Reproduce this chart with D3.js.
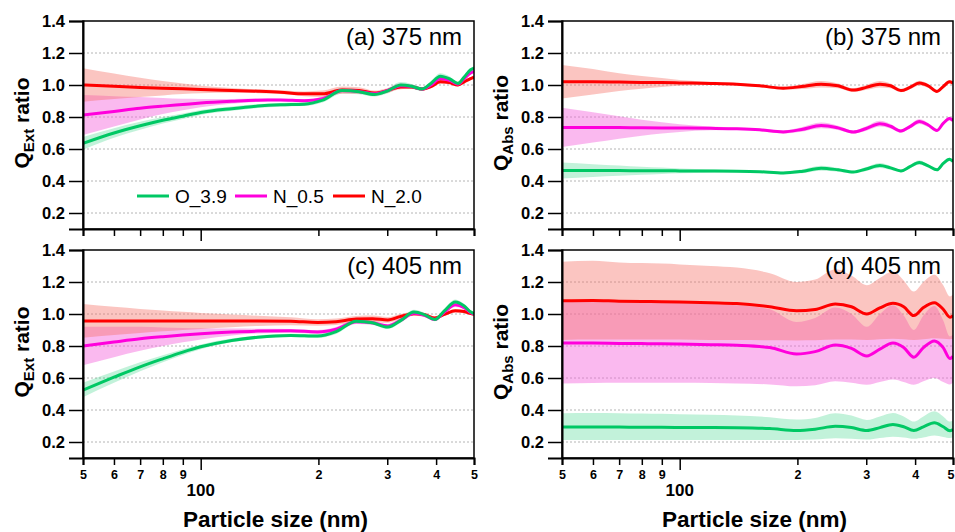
<!DOCTYPE html>
<html>
<head>
<meta charset="utf-8">
<script src="https://cdn.jsdelivr.net/npm/d3@7"></script>
<style>
  body { margin: 0; background: #fff; }
  svg text { font-family: "Liberation Sans", Arial, sans-serif; }
</style>
</head>
<body>
<svg id="chart" width="955" height="532"></svg>
<script>
// particle sizes (nm) sampled for each wavelength
var sizes375 = [50, 60, 70, 80, 90, 100, 120, 140, 160, 184, 205, 230, 254, 278, 300, 325, 346, 368, 388, 410, 432, 455, 472, 490, 500];
var sizes405 = [50, 60, 70, 80, 90, 100, 120, 140, 170, 199, 222, 250, 275, 301, 325, 351, 374, 397, 420, 448, 472, 491, 500];

var seriesNames = ['O_3.9', 'N_0.5', 'N_2.0'];
var yTicks = [0.2, 0.4, 0.6, 0.8, 1.0, 1.2, 1.4];
var xTicks = [50, 60, 70, 80, 90, 100, 200, 300, 400, 500];

// (a) 375 nm, Q_Ext ratio
var aGreen   = [0.635, 0.700, 0.745, 0.780, 0.805, 0.828, 0.852, 0.868, 0.876, 0.880, 0.905, 0.965, 0.958, 0.940, 0.962, 1.000, 0.992, 0.975, 1.010, 1.055, 1.040, 1.010, 1.050, 1.095, 1.105];
var aGreenLo = [0.595, 0.670, 0.720, 0.760, 0.788, 0.813, 0.839, 0.856, 0.864, 0.868, 0.890, 0.947, 0.942, 0.928, 0.947, 0.982, 0.977, 0.963, 0.995, 1.037, 1.025, 0.998, 1.038, 1.083, 1.093];
var aGreenHi = [0.675, 0.730, 0.770, 0.800, 0.822, 0.843, 0.865, 0.880, 0.888, 0.892, 0.920, 0.983, 0.974, 0.952, 0.977, 1.018, 1.007, 0.987, 1.025, 1.073, 1.055, 1.022, 1.062, 1.107, 1.117];
var aMag     = [0.812, 0.835, 0.855, 0.868, 0.878, 0.887, 0.898, 0.905, 0.906, 0.902, 0.915, 0.965, 0.960, 0.945, 0.965, 0.995, 0.990, 0.975, 1.000, 1.040, 1.030, 1.005, 1.040, 1.075, 1.085];
var aMagLo   = [0.687, 0.740, 0.785, 0.818, 0.842, 0.861, 0.883, 0.895, 0.898, 0.892, 0.903, 0.950, 0.947, 0.935, 0.953, 0.980, 0.978, 0.965, 0.988, 1.025, 1.018, 0.995, 1.030, 1.065, 1.075];
var aMagHi   = [0.937, 0.930, 0.925, 0.918, 0.914, 0.913, 0.913, 0.915, 0.914, 0.912, 0.927, 0.980, 0.973, 0.955, 0.977, 1.010, 1.002, 0.985, 1.012, 1.055, 1.042, 1.015, 1.050, 1.085, 1.095];
var aRed     = [1.000, 0.992, 0.985, 0.980, 0.976, 0.972, 0.966, 0.961, 0.955, 0.945, 0.945, 0.968, 0.966, 0.950, 0.965, 0.988, 0.988, 0.975, 0.990, 1.020, 1.015, 1.000, 1.020, 1.040, 1.050];
var aRedLo   = [0.895, 0.912, 0.925, 0.935, 0.943, 0.948, 0.951, 0.949, 0.943, 0.930, 0.925, 0.946, 0.946, 0.935, 0.950, 0.973, 0.976, 0.965, 0.980, 1.008, 1.005, 0.990, 1.010, 1.030, 1.040];
var aRedHi   = [1.105, 1.072, 1.045, 1.025, 1.009, 0.996, 0.981, 0.973, 0.967, 0.960, 0.965, 0.990, 0.986, 0.965, 0.980, 1.003, 1.000, 0.985, 1.000, 1.032, 1.025, 1.010, 1.030, 1.050, 1.060];

// (b) 375 nm, Q_Abs ratio
var bGreen   = [0.465, 0.465, 0.465, 0.464, 0.464, 0.463, 0.462, 0.461, 0.458, 0.450, 0.460, 0.480, 0.470, 0.456, 0.475, 0.497, 0.482, 0.463, 0.490, 0.516, 0.495, 0.470, 0.510, 0.536, 0.522];
var bGreenLo = [0.415, 0.425, 0.433, 0.439, 0.444, 0.448, 0.452, 0.454, 0.452, 0.442, 0.448, 0.464, 0.458, 0.448, 0.463, 0.481, 0.470, 0.455, 0.480, 0.502, 0.485, 0.463, 0.502, 0.526, 0.514];
var bGreenHi = [0.515, 0.505, 0.497, 0.489, 0.484, 0.478, 0.472, 0.468, 0.464, 0.458, 0.472, 0.496, 0.482, 0.464, 0.487, 0.513, 0.494, 0.471, 0.500, 0.530, 0.505, 0.477, 0.518, 0.546, 0.530];
var bMag     = [0.735, 0.735, 0.734, 0.733, 0.732, 0.731, 0.729, 0.726, 0.720, 0.707, 0.722, 0.747, 0.732, 0.706, 0.728, 0.758, 0.742, 0.712, 0.740, 0.772, 0.750, 0.716, 0.760, 0.790, 0.778];
var bMagLo   = [0.612, 0.640, 0.664, 0.683, 0.697, 0.707, 0.717, 0.718, 0.712, 0.697, 0.708, 0.729, 0.718, 0.696, 0.714, 0.740, 0.728, 0.702, 0.728, 0.757, 0.738, 0.708, 0.750, 0.778, 0.768];
var bMagHi   = [0.858, 0.830, 0.804, 0.783, 0.767, 0.755, 0.741, 0.734, 0.728, 0.717, 0.736, 0.765, 0.746, 0.716, 0.742, 0.776, 0.756, 0.722, 0.752, 0.787, 0.762, 0.724, 0.770, 0.802, 0.788];
var bRed     = [1.020, 1.020, 1.018, 1.016, 1.015, 1.013, 1.010, 1.005, 0.995, 0.980, 0.990, 1.005, 0.995, 0.968, 0.985, 1.005, 0.995, 0.965, 0.985, 1.012, 0.995, 0.960, 0.990, 1.020, 1.012];
var bRedLo   = [0.915, 0.940, 0.963, 0.976, 0.987, 0.995, 1.000, 0.997, 0.987, 0.970, 0.975, 0.985, 0.980, 0.956, 0.970, 0.985, 0.980, 0.955, 0.973, 0.997, 0.983, 0.952, 0.980, 1.008, 1.002];
var bRedHi   = [1.125, 1.100, 1.073, 1.056, 1.043, 1.031, 1.020, 1.013, 1.003, 0.990, 1.005, 1.025, 1.010, 0.980, 1.000, 1.025, 1.010, 0.975, 0.997, 1.027, 1.007, 0.968, 1.000, 1.032, 1.022];

// (c) 405 nm, Q_Ext ratio
var cGreen   = [0.525, 0.605, 0.670, 0.720, 0.762, 0.795, 0.835, 0.855, 0.866, 0.862, 0.890, 0.955, 0.945, 0.918, 0.960, 1.012, 0.995, 0.966, 1.020, 1.075, 1.050, 1.012, 1.002];
var cGreenLo = [0.480, 0.570, 0.642, 0.698, 0.744, 0.780, 0.823, 0.845, 0.856, 0.850, 0.875, 0.940, 0.933, 0.906, 0.945, 0.997, 0.983, 0.956, 1.005, 1.060, 1.038, 1.002, 0.992];
var cGreenHi = [0.570, 0.640, 0.698, 0.742, 0.780, 0.810, 0.847, 0.865, 0.876, 0.874, 0.905, 0.970, 0.957, 0.930, 0.975, 1.027, 1.007, 0.976, 1.035, 1.090, 1.062, 1.022, 1.012];
var cMag     = [0.800, 0.825, 0.845, 0.858, 0.868, 0.876, 0.887, 0.893, 0.895, 0.888, 0.905, 0.952, 0.945, 0.925, 0.962, 1.005, 0.992, 0.965, 1.012, 1.058, 1.040, 1.008, 1.000];
var cMagLo   = [0.680, 0.730, 0.770, 0.800, 0.823, 0.841, 0.865, 0.878, 0.883, 0.876, 0.891, 0.937, 0.933, 0.913, 0.948, 0.990, 0.980, 0.955, 0.999, 1.043, 1.028, 0.998, 0.990];
var cMagHi   = [0.920, 0.920, 0.920, 0.916, 0.913, 0.911, 0.909, 0.908, 0.907, 0.900, 0.919, 0.967, 0.957, 0.937, 0.976, 1.020, 1.004, 0.975, 1.025, 1.073, 1.052, 1.018, 1.010];
var cRed     = [0.957, 0.957, 0.957, 0.957, 0.957, 0.957, 0.957, 0.957, 0.955, 0.947, 0.952, 0.968, 0.970, 0.963, 0.985, 1.002, 0.995, 0.975, 0.998, 1.020, 1.015, 1.003, 0.998];
var cRedLo   = [0.852, 0.869, 0.882, 0.892, 0.900, 0.907, 0.917, 0.925, 0.930, 0.927, 0.932, 0.948, 0.950, 0.945, 0.970, 0.990, 0.983, 0.965, 0.988, 1.010, 1.005, 0.993, 0.988];
var cRedHi   = [1.062, 1.045, 1.032, 1.022, 1.014, 1.007, 0.997, 0.989, 0.980, 0.967, 0.972, 0.988, 0.990, 0.981, 1.000, 1.014, 1.007, 0.985, 1.008, 1.030, 1.025, 1.013, 1.008];

// (d) 405 nm, Q_Abs ratio
var dGreen   = [0.293, 0.294, 0.293, 0.292, 0.292, 0.291, 0.290, 0.289, 0.284, 0.272, 0.280, 0.298, 0.290, 0.272, 0.290, 0.310, 0.295, 0.272, 0.295, 0.320, 0.295, 0.270, 0.278];
var dGreenLo = [0.212, 0.212, 0.212, 0.212, 0.212, 0.212, 0.212, 0.212, 0.212, 0.212, 0.215, 0.223, 0.220, 0.215, 0.225, 0.233, 0.228, 0.220, 0.228, 0.240, 0.232, 0.225, 0.228];
var dGreenHi = [0.380, 0.382, 0.380, 0.378, 0.376, 0.374, 0.370, 0.366, 0.355, 0.340, 0.350, 0.380, 0.365, 0.338, 0.360, 0.382, 0.360, 0.328, 0.360, 0.392, 0.360, 0.328, 0.335];
var dMag     = [0.818, 0.818, 0.816, 0.815, 0.814, 0.812, 0.808, 0.804, 0.790, 0.750, 0.765, 0.806, 0.785, 0.738, 0.780, 0.818, 0.790, 0.730, 0.790, 0.832, 0.790, 0.722, 0.735];
var dMagLo   = [0.565, 0.568, 0.570, 0.570, 0.570, 0.570, 0.568, 0.565, 0.560, 0.548, 0.555, 0.580, 0.570, 0.558, 0.575, 0.590, 0.575, 0.558, 0.580, 0.600, 0.575, 0.560, 0.570];
var dMagHi   = [1.075, 1.078, 1.075, 1.072, 1.070, 1.068, 1.062, 1.055, 1.030, 0.950, 0.975, 1.040, 1.000, 0.920, 1.000, 1.055, 0.990, 0.900, 0.990, 1.050, 0.960, 0.860, 0.870];
var dRed     = [1.083, 1.085, 1.080, 1.078, 1.077, 1.075, 1.070, 1.065, 1.045, 1.020, 1.028, 1.062, 1.045, 1.000, 1.038, 1.067, 1.045, 0.990, 1.040, 1.070, 1.030, 0.980, 0.990];
var dRedLo   = [0.838, 0.840, 0.840, 0.840, 0.840, 0.840, 0.838, 0.838, 0.836, 0.835, 0.836, 0.840, 0.840, 0.838, 0.842, 0.845, 0.842, 0.838, 0.842, 0.848, 0.845, 0.842, 0.845];
var dRedHi   = [1.327, 1.333, 1.322, 1.318, 1.315, 1.310, 1.300, 1.290, 1.255, 1.200, 1.215, 1.280, 1.240, 1.180, 1.225, 1.265, 1.210, 1.140, 1.200, 1.245, 1.180, 1.110, 1.120];

var lineColor = { green: '#00c864', magenta: '#ff00dc', red: '#ff0000' };
var bandColor = { green: '#00c864', magenta: '#f564dc', red: '#f56e64' };
var bandOpacity = { green: 0.24, magenta: 0.45, red: 0.4 };

var svg = d3.select('#chart');
var plotW = 391, plotH = 208;

var x = d3.scaleLog().domain([50, 500]).range([0, plotW]);
var y = d3.scaleLinear().domain([0.1, 1.4]).range([plotH, 0]);

var panels = [
  { id: 'a', left: 83, top: 21, label: '(a) 375 nm', q: 'Ext', sizes: sizes375, bottom: false, legend: true,
    series: [ { c: 'green', m: aGreen, lo: aGreenLo, hi: aGreenHi },
              { c: 'magenta', m: aMag, lo: aMagLo, hi: aMagHi },
              { c: 'red', m: aRed, lo: aRedLo, hi: aRedHi } ] },
  { id: 'b', left: 562, top: 21, label: '(b) 375 nm', q: 'Abs', sizes: sizes375, bottom: false, legend: false,
    series: [ { c: 'green', m: bGreen, lo: bGreenLo, hi: bGreenHi },
              { c: 'magenta', m: bMag, lo: bMagLo, hi: bMagHi },
              { c: 'red', m: bRed, lo: bRedLo, hi: bRedHi } ] },
  { id: 'c', left: 83, top: 250, label: '(c) 405 nm', q: 'Ext', sizes: sizes405, bottom: true, legend: false,
    series: [ { c: 'green', m: cGreen, lo: cGreenLo, hi: cGreenHi },
              { c: 'magenta', m: cMag, lo: cMagLo, hi: cMagHi },
              { c: 'red', m: cRed, lo: cRedLo, hi: cRedHi } ] },
  { id: 'd', left: 562, top: 250, label: '(d) 405 nm', q: 'Abs', sizes: sizes405, bottom: true, legend: false,
    series: [ { c: 'green', m: dGreen, lo: dGreenLo, hi: dGreenHi },
              { c: 'magenta', m: dMag, lo: dMagLo, hi: dMagHi },
              { c: 'red', m: dRed, lo: dRedLo, hi: dRedHi } ] }
];

var defs = svg.append('defs');

panels.forEach(drawPanel);

function drawPanel(p) {
  var g = svg.append('g').attr('transform', 'translate(' + p.left + ',' + p.top + ')');

  defs.append('clipPath').attr('id', 'clip-' + p.id)
    .append('rect').attr('width', plotW).attr('height', plotH);

  // dotted grid
  g.append('g').selectAll('line')
    .data(yTicks.filter(function(t) { return t < 1.35; }))
    .enter().append('line')
    .attr('x1', 0).attr('x2', plotW)
    .attr('y1', function(d) { return y(d); })
    .attr('y2', function(d) { return y(d); })
    .attr('stroke', '#b4b4b4')
    .attr('stroke-width', 1)
    .attr('stroke-dasharray', '2,2');

  var plot = g.append('g').attr('clip-path', 'url(#clip-' + p.id + ')');
  var idx = d3.range(p.sizes.length);

  // uncertainty bands
  p.series.forEach(function(s) {
    var area = d3.area()
      .x(function(i) { return x(p.sizes[i]); })
      .y0(function(i) { return y(s.lo[i]); })
      .y1(function(i) { return y(s.hi[i]); })
      .curve(d3.curveMonotoneX);
    plot.append('path')
      .datum(idx)
      .attr('d', area)
      .attr('fill', bandColor[s.c])
      .attr('fill-opacity', bandOpacity[s.c]);
  });

  // mean lines, green drawn last
  p.series.slice().reverse().forEach(function(s) {
    var line = d3.line()
      .x(function(i) { return x(p.sizes[i]); })
      .y(function(i) { return y(s.m[i]); })
      .curve(d3.curveMonotoneX);
    plot.append('path')
      .datum(idx)
      .attr('d', line)
      .attr('fill', 'none')
      .attr('stroke', lineColor[s.c])
      .attr('stroke-width', 3);
  });

  // frame
  g.append('rect')
    .attr('width', plotW).attr('height', plotH)
    .attr('fill', 'none').attr('stroke', '#000').attr('stroke-width', 1.5);

  // y axis
  var yAxis = g.append('g')
    .call(d3.axisLeft(y).tickValues(yTicks).tickFormat(d3.format('.1f')).tickSize(14).tickPadding(4))
    .call(function(a) { a.select('.domain').attr('stroke-width', 2); });
  yAxis.selectAll('.tick line').attr('stroke-width', 1.5);
  yAxis.selectAll('.tick text')
    .style('font-family', '"Liberation Sans", Arial, sans-serif')
    .style('font-size', '16.5px')
    .style('font-weight', 'bold')
    .attr('fill', '#000');

  // x axis (log)
  var xAxis = g.append('g')
    .attr('transform', 'translate(0,' + plotH + ')')
    .call(d3.axisBottom(x).tickValues(xTicks).tickSize(7).tickPadding(5)
      .tickFormat(function(d) {
        if (!p.bottom || d === 100) return '';
        return d < 100 ? String(d / 10) : String(d / 100);
      }))
    .call(function(a) { a.select('.domain').attr('stroke-width', 2); });
  xAxis.selectAll('.tick line')
    .attr('stroke-width', 1.5)
    .attr('y2', function(d) { return d === 100 ? 12 : 7; });
  xAxis.selectAll('.tick text')
    .style('font-family', '"Liberation Sans", Arial, sans-serif')
    .style('font-size', '12.5px')
    .style('font-weight', 'bold')
    .attr('fill', '#000');
  // keep the last label of the right column inside the page
  if (p.left > 400) {
    xAxis.selectAll('.tick text')
      .filter(function(d) { return d === 500; })
      .attr('text-anchor', 'end').attr('x', 1);
  }

  if (p.bottom) {
    g.append('text')
      .attr('x', x(100)).attr('y', plotH + 38)
      .attr('text-anchor', 'middle')
      .style('font-size', '17px').style('font-weight', 'bold')
      .text('100');
    g.append('text')
      .attr('x', plotW / 2 - 3).attr('y', plotH + 69)
      .attr('text-anchor', 'middle')
      .style('font-size', '22.5px').style('font-weight', 'bold')
      .text('Particle size (nm)');
  }

  // y axis title with subscript
  var yt = g.append('text')
    .attr('transform', 'translate(-54,' + (plotH / 2 - 2) + ') rotate(-90)')
    .attr('text-anchor', 'middle')
    .style('font-size', '21px').style('font-weight', 'bold');
  yt.append('tspan').text('Q');
  yt.append('tspan').attr('dy', 5).style('font-size', '15px').text(p.q);
  yt.append('tspan').attr('dy', -5).text(' ratio');

  // panel label
  g.append('text')
    .attr('x', plotW - 12).attr('y', 24)
    .attr('text-anchor', 'end')
    .style('font-size', '24px')
    .text(p.label);

  if (p.legend) {
    var keys = ['green', 'magenta', 'red'];
    var lg = g.append('g').attr('transform', 'translate(54,' + 175 + ')');
    keys.forEach(function(k, i) {
      var e = lg.append('g').attr('transform', 'translate(' + (i * 98) + ',0)');
      e.append('line')
        .attr('x1', 0).attr('x2', 32).attr('y1', 0).attr('y2', 0)
        .attr('stroke', lineColor[k]).attr('stroke-width', 3);
      e.append('text')
        .attr('x', 38).attr('y', 6.5)
        .style('font-size', '19px')
        .text(seriesNames[i]);
    });
  }
}
</script>
</body>
</html>
